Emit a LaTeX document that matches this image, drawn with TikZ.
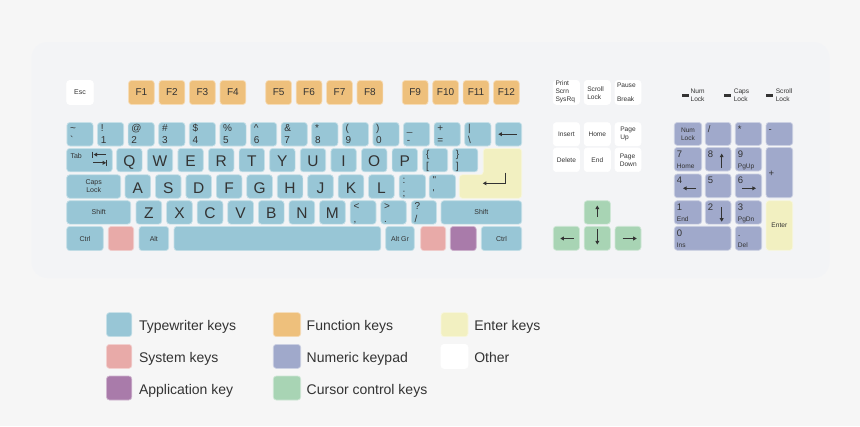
\documentclass[tikz,border=0pt]{standalone}
\usepackage{fontspec}
\newfontfamily\kf{Liberation Sans}
\usetikzlibrary{arrows.meta}
\definecolor{cBG}{RGB}{246,246,246}
\definecolor{cPanel}{RGB}{243,244,246}
\definecolor{cTW}{RGB}{152,198,214}
\definecolor{cFN}{RGB}{238,192,124}
\definecolor{cEN}{RGB}{242,240,193}
\definecolor{cSY}{RGB}{232,170,168}
\definecolor{cAP}{RGB}{169,123,170}
\definecolor{cNP}{RGB}{160,169,203}
\definecolor{cCU}{RGB}{168,212,180}
\definecolor{cTX}{RGB}{51,51,51}
\tikzset{
  kbase/.style={rectangle, rounded corners=3pt, inner sep=0pt, outer sep=0pt, line width=0.7pt},
  kTW/.style={kbase, fill=cTW, draw=cTW!55!white},
  kFN/.style={kbase, fill=cFN, draw=cFN!55!white},
  kEN/.style={kbase, fill=cEN, draw=cEN!55!white},
  kSY/.style={kbase, fill=cSY, draw=cSY!55!white},
  kAP/.style={kbase, fill=cAP, draw=cAP!55!white},
  kNP/.style={kbase, fill=cNP, draw=cNP!55!white},
  kCU/.style={kbase, fill=cCU, draw=cCU!55!white},
  kOT/.style={kbase, fill=white, draw=white},
  txtb/.style={inner sep=0pt, outer sep=0pt, text=cTX},
  big/.style={txtb, font=\kf\fontsize{15.5}{16}\selectfont},
  sym/.style={txtb, font=\kf\fontsize{10}{11}\selectfont},
  fk/.style={txtb, font=\kf\fontsize{10}{11}\selectfont},
  sm/.style={txtb, font=\kf\fontsize{7}{8}\selectfont, align=center},
  sml/.style={txtb, font=\kf\fontsize{7}{8}\selectfont},
  xs/.style={txtb, font=\kf\fontsize{6.6}{8}\selectfont, align=left},
  xsl/.style={txtb, font=\kf\fontsize{6.6}{8}\selectfont},
  npd/.style={txtb, font=\kf\fontsize{9.5}{10}\selectfont},
  leg/.style={txtb, font=\kf\fontsize{14}{16}\selectfont, anchor=base west},
  karrow/.style={line width=1.1pt, draw=cTX, -{Triangle[length=3.6pt,width=3.8pt]}},
  barline/.style={line width=1pt, draw=cTX},
  led/.style={fill=cTX},
}
\newcommand\K[6]{\node[#6, minimum width={(#4)-(#2)}, minimum height={(#5)-(#3)}] (#1) at ({((#2)+(#4))/2},{((#3)+(#5))/2}) {};}
\newcommand\KS[7]{\K{#1}{#2}{#3}{#4}{#5}{kTW}%
  \node[sym,anchor=base west] (#1-a) at ([shift={(3.3,8.6)}]#1.north west) {#6};%
  \node[sym,anchor=base west] (#1-b) at ([shift={(3.3,21.3)}]#1.north west) {#7};}
\newcommand\KL[6]{\K{#1}{#2}{#3}{#4}{#5}{kTW}%
  \node[big,anchor=base] (#1-a) at ([shift={(0,18.2)}]#1.north) {#6};}
\newcommand\KC[8]{\K{#1}{#2}{#3}{#4}{#5}{#6}%
  \node[#7] (#1-a) at (#1) {#8};}
\newcommand\ND[3]{\node[npd,anchor=base west] (#1-a) at ([shift={(2.6,9.8)}]#1.north west) {#2};%
  \node[xsl,anchor=base west] (#1-b) at ([shift={(2.6,21)}]#1.north west) {#3};}
\begin{document}
\begin{tikzpicture}[x=1pt,y=-1pt]
\fill[cBG] (0,0) rectangle (860,426);
\useasboundingbox (0,0) rectangle (860,426);
\fill[cPanel, rounded corners=16pt] (31.5,42) rectangle (829.5,278);
% ---------- function row
\KC{esc}{66.7}{80.5}{93.3}{104.5}{kOT}{sml}{Esc}
\foreach \i/\f in {0/F1,1/F2,2/F3,3/F4}{\pgfmathsetmacro\xa{128.5+\i*30.5}\pgfmathsetmacro\xb{\xa+25.8}\KC{k\f}{\xa}{80.5}{\xb}{104.5}{kFN}{fk}{\f}}
\foreach \i/\f in {0/F5,1/F6,2/F7,3/F8}{\pgfmathsetmacro\xa{265.7+\i*30.45}\pgfmathsetmacro\xb{\xa+25.8}\KC{k\f}{\xa}{80.5}{\xb}{104.5}{kFN}{fk}{\f}}
\foreach \i/\f in {0/F9,1/F10,2/F11,3/F12}{\pgfmathsetmacro\xa{402.3+\i*30.4}\pgfmathsetmacro\xb{\xa+25.8}\KC{k\f}{\xa}{80.5}{\xb}{104.5}{kFN}{fk}{\f}}
% ---------- number row
\foreach \i/\tp/\bt in {0/\textasciitilde/\textasciigrave,1/!/1,2/@/2,3/\#/3,4/\$/4,5/\%/5,6/\textasciicircum/6,7/\&/7,8/*/8,9/(/9,10/)/0,11/\_/-,12/+/=,13/|/\textbackslash}{%
  \pgfmathsetmacro\xa{66.9+\i*30.6}\pgfmathsetmacro\xb{\xa+26.2}%
  \KS{n\i}{\xa}{122.5}{\xb}{146}{\tp}{\bt}}
\K{bksp}{495.3}{122.5}{521.7}{146}{kTW}
\draw[karrow] (516.5,134.2) -- (498.3,134.2);
% ---------- tab row
\K{tab}{66.7}{148.4}{112.3}{171.8}{kTW}
\node[sml,anchor=base west] (tab-a) at ([shift={(3.8,9.6)}]tab.north west) {Tab};
\draw[karrow] (106.2,154.6) -- (93.6,154.6);
\draw[barline] (92.9,151.6) -- (92.9,157.6);
\draw[karrow] (93.2,162.8) -- (106.2,162.8);
\draw[barline] (106.9,159.8) -- (106.9,165.8);
\foreach \i/\l in {0/Q,1/W,2/E,3/R,4/T,5/Y,6/U,7/I,8/O,9/P}{\pgfmathsetmacro\xa{116.7+\i*30.6}\pgfmathsetmacro\xb{\xa+25.4}\KL{q\i}{\xa}{148.4}{\xb}{171.8}{\l}}
\KS{lbr}{422.7}{148.4}{447.7}{171.8}{\{}{[}
\KS{rbr}{452.5}{148.4}{477.8}{171.8}{\}}{]}
\path[kEN] (483.3,148.4) -- (521.7,148.4) -- (521.7,198.3) -- (459.3,198.3) -- (459.3,174.8) -- (483.3,174.8) -- cycle;
\coordinate (ent1) at (505.7,172.5);
\coordinate (ent2) at (505.7,183.3);
\coordinate (ent3) at (482.8,183.3);
\draw[karrow] (ent1) -- (ent2) -- (ent3);
% ---------- caps row
\KC{caps}{66.7}{174.8}{120.7}{198.3}{kTW}{sm}{Caps\\Lock}
\foreach \i/\l in {0/A,1/S,2/D,3/F,4/G,5/H,6/J,7/K,8/L}{\pgfmathsetmacro\xa{125+\i*30.45}\pgfmathsetmacro\xb{\xa+25.6}\KL{a\i}{\xa}{174.8}{\xb}{198.3}{\l}}
\KS{semi}{399.2}{174.8}{425.6}{198.3}{:}{;}
\KS{quot}{429.2}{174.8}{455.6}{198.3}{\symbol{34}}{\symbol{39}}
% ---------- shift row
\KC{lsh}{66.7}{200.7}{130.7}{224.1}{kTW}{sml}{Shift}
\foreach \i/\l in {0/Z,1/X,2/C,3/V,4/B,5/N,6/M}{\pgfmathsetmacro\xa{136+\i*30.6}\pgfmathsetmacro\xb{\xa+25.7}\KL{z\i}{\xa}{200.7}{\xb}{224.1}{\l}}
\KS{klt}{350.2}{200.7}{376}{224.1}{<}{,}
\KS{kgt}{380.8}{200.7}{406.3}{224.1}{>}{.}
\KS{kqm}{411.3}{200.7}{436.5}{224.1}{?}{/}
\KC{rsh}{441}{200.7}{521.7}{224.1}{kTW}{sml}{Shift}
% ---------- bottom row
\KC{lctrl}{66.7}{226.4}{103.3}{250.6}{kTW}{sml}{Ctrl}
\K{lwin}{108.3}{226.4}{133.7}{250.6}{kSY}
\KC{lalt}{139}{226.4}{168.7}{250.6}{kTW}{sml}{Alt}
\K{space}{174}{226.4}{380.8}{250.6}{kTW}
\KC{altgr}{385.7}{226.4}{414.3}{250.6}{kTW}{sml}{Alt Gr}
\K{rwin}{420.7}{226.4}{445.7}{250.6}{kSY}
\K{menu}{450.3}{226.4}{476.3}{250.6}{kAP}
\KC{rctrl}{481.3}{226.4}{521.7}{250.6}{kTW}{sml}{Ctrl}
% ---------- editing cluster
\K{prt}{553.3}{80.4}{579.5}{104.4}{kOT}
\node[xs,anchor=west] (prt-a) at (555.5,91.7) {Print\\Scrn\\SysRq};
\K{scr}{584.2}{80.4}{610.4}{104.4}{kOT}
\node[xs,anchor=west] (scr-a) at (587.3,93) {Scroll\\Lock};
\K{pau}{615}{80.4}{641}{104.4}{kOT}
\node[xsl,anchor=west] (pau-a) at (617,85) {Pause};
\node[xsl,anchor=west] (pau-b) at (617,98.7) {Break};
\KC{ins}{553.3}{122.6}{579.5}{145.8}{kOT}{xsl}{Insert}
\KC{home}{584.2}{122.6}{610.4}{145.8}{kOT}{xsl}{Home}
\K{pgup}{615}{122.6}{641}{145.8}{kOT}
\node[xs,anchor=west] (pgup-a) at (620.3,133.5) {Page\\Up};
\KC{kdel}{553.3}{148}{579.5}{171.6}{kOT}{xsl}{Delete}
\KC{kend}{584.2}{148}{610.4}{171.6}{kOT}{xsl}{End}
\K{pgdn}{615}{148}{641}{171.6}{kOT}
\node[xs,anchor=west] (pgdn-a) at (619.8,160.7) {Page\\Down};
% ---------- cursor keys
\K{kup}{584.2}{200.7}{610.4}{224.1}{kCU}
\draw[karrow] (597.3,217) -- (597.3,205.5);
\K{kleft}{553.3}{226.3}{579.5}{250.3}{kCU}
\draw[karrow] (573.5,238.5) -- (560.3,238.5);
\K{kdown}{584.2}{226.3}{610.4}{250.3}{kCU}
\draw[karrow] (597.3,229.3) -- (597.3,244.5);
\K{kright}{615}{226.3}{641}{250.3}{kCU}
\draw[karrow] (622.5,238.5) -- (636.8,238.5);
% ---------- LEDs
\fill[led] (682,94.2) rectangle (689.3,96.6);
\node[xs,anchor=west] (led1) at (690.6,95.2) {Num\\Lock};
\fill[led] (724,94.2) rectangle (731.3,96.6);
\node[xs,anchor=west] (led2) at (733.8,95.2) {Caps\\Lock};
\fill[led] (766,94.2) rectangle (773.3,96.6);
\node[xs,anchor=west] (led3) at (775.8,95.2) {Scroll\\Lock};
% ---------- numeric keypad
\KC{nlk}{674.3}{122.4}{701.7}{145.4}{kNP}{xs,align=center}{Num\\Lock}
\K{ndiv}{705.3}{122.4}{731}{145.4}{kNP}\ND{ndiv}{/}{}
\K{nmul}{735.3}{122.4}{761.7}{145.4}{kNP}\ND{nmul}{*}{}
\K{nmin}{766}{122.4}{792.7}{145.4}{kNP}\ND{nmin}{-}{}
\K{n7}{674.3}{147.4}{701.7}{171}{kNP}\ND{n7}{7}{Home}
\K{n8}{705.3}{147.4}{731}{171}{kNP}\ND{n8}{8}{}
\draw[karrow] (721.7,167.8) -- (721.7,153.6);
\K{n9}{735.3}{147.4}{761.7}{171}{kNP}\ND{n9}{9}{PgUp}
\K{nplus}{766}{147.4}{792.7}{197.7}{kNP}
\node[npd,anchor=west] (nplus-a) at (768.6,174) {+};
\K{n4}{674.3}{174}{701.7}{197.7}{kNP}\ND{n4}{4}{}
\draw[karrow] (696,188.3) -- (683,188.3);
\K{n5}{705.3}{174}{731}{197.7}{kNP}\ND{n5}{5}{}
\K{n6}{735.3}{174}{761.7}{197.7}{kNP}\ND{n6}{6}{}
\draw[karrow] (742,188.3) -- (756,188.3);
\K{n1}{674.3}{200.7}{701.7}{224.1}{kNP}\ND{n1}{1}{End}
\K{n2}{705.3}{200.7}{731}{224.1}{kNP}\ND{n2}{2}{}
\draw[karrow] (721.7,207) -- (721.7,221.8);
\K{n3}{735.3}{200.7}{761.7}{224.1}{kNP}\ND{n3}{3}{PgDn}
\KC{nent}{766}{200.7}{792.7}{250.3}{kEN}{xsl}{Enter}
\K{n0}{674.3}{226.3}{731}{250.3}{kNP}\ND{n0}{0}{Ins}
\K{ndot}{735.3}{226.3}{761.7}{250.3}{kNP}\ND{ndot}{.}{Del}
% ---------- legend
\K{lg1}{106.5}{312.6}{131.8}{336.6}{kTW}\node[leg] (lg1-t) at (139,330.7) {Typewriter keys};
\K{lg2}{106.5}{344.4}{131.8}{368.4}{kSY}\node[leg] (lg2-t) at (139,362.6) {System keys};
\K{lg3}{106.5}{376}{131.8}{400}{kAP}\node[leg] (lg3-t) at (139,394) {Application key};
\K{lg4}{273.3}{312.6}{300.7}{336.6}{kFN}\node[leg] (lg4-t) at (306.7,330.7) {Function keys};
\K{lg5}{273.3}{344.4}{300.7}{368.4}{kNP}\node[leg] (lg5-t) at (306.7,362.6) {Numeric keypad};
\K{lg6}{273.3}{376}{300.7}{400}{kCU}\node[leg] (lg6-t) at (306.7,394) {Cursor control keys};
\K{lg7}{441}{312.6}{468}{336.6}{kEN}\node[leg] (lg7-t) at (474.3,330.7) {Enter keys};
\K{lg8}{441}{344.4}{468}{368.4}{kOT}\node[leg] (lg8-t) at (474.3,362.6) {Other};
\end{tikzpicture}
\end{document}
